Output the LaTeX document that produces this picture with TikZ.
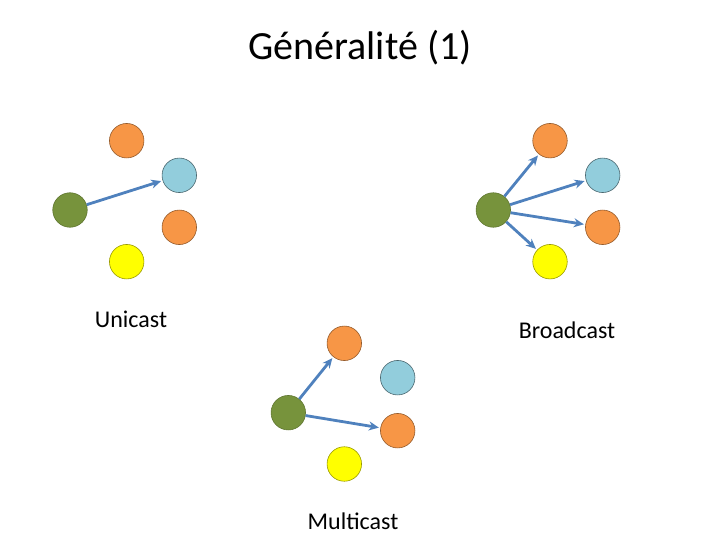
\documentclass[tikz,border=0pt]{standalone}
\usepackage{fontspec}
\setmainfont{Carlito}
\usetikzlibrary{arrows.meta, positioning}

\definecolor{hostgreen}{HTML}{77933C}
\definecolor{hostorange}{HTML}{F79646}
\definecolor{hostblue}{HTML}{92CDDC}
\definecolor{hostyellow}{HTML}{FFFF00}
\definecolor{linkblue}{HTML}{4F81BD}

\tikzset{
  host/.style={circle, minimum size=34.5pt, inner sep=0pt, line width=0.6pt},
  src/.style={host, fill=hostgreen, draw=hostgreen!80!black},
  org/.style={host, fill=hostorange, draw=hostorange!60!black},
  blu/.style={host, fill=hostblue, draw=hostblue!50!black},
  yel/.style={host, fill=hostyellow, draw=hostyellow!60!black},
  send/.style={draw=linkblue, line width=2.8pt, -{Stealth[length=10pt, width=9pt]}, shorten >=1.5pt},
  caption/.style={font=\fontsize{24}{28}\selectfont}
}

\begin{document}
\begin{tikzpicture}[x=1pt, y=-1pt]

  \useasboundingbox (0,0) rectangle (720,540);

  % Title
  \node[font=\fontsize{40}{46}\selectfont] (title) at (360,48) {Généralité (1)};

  % Unicast (top left)
  \node[org] (uA) at (126.7,140.7) {};
  \node[blu] (uB) at (179.3,175.3) {};
  \node[org] (uC) at (179.3,227.3) {};
  \node[yel] (uD) at (126.7,261.7) {};
  \node[src] (uS) at (70,210) {};
  \draw[send] (uS) -- (uB);
  \node[caption] (ulabel) at (131,319) {Unicast};

  % Broadcast (top right)
  \node[org] (bA) at (550,140.7) {};
  \node[blu] (bB) at (602.7,175.3) {};
  \node[org] (bC) at (602.7,227.3) {};
  \node[yel] (bD) at (550,261.7) {};
  \node[src] (bS) at (493.3,210) {};
  \foreach \t in {bA, bB, bC, bD}
    \draw[send] (bS) -- (\t);
  \node[caption] (blabel) at (567,330) {Broadcast};

  % Multicast (bottom middle)
  \node[org] (mA) at (344.3,343.3) {};
  \node[blu] (mB) at (397.7,377.7) {};
  \node[org] (mC) at (397.7,430.7) {};
  \node[yel] (mD) at (344.3,464) {};
  \node[src] (mS) at (288.3,412.7) {};
  \draw[send] (mS) -- (mA);
  \draw[send] (mS) -- (mC);
  \node[caption] (mlabel) at (353,521) {Multicast};

\end{tikzpicture}
\end{document}
